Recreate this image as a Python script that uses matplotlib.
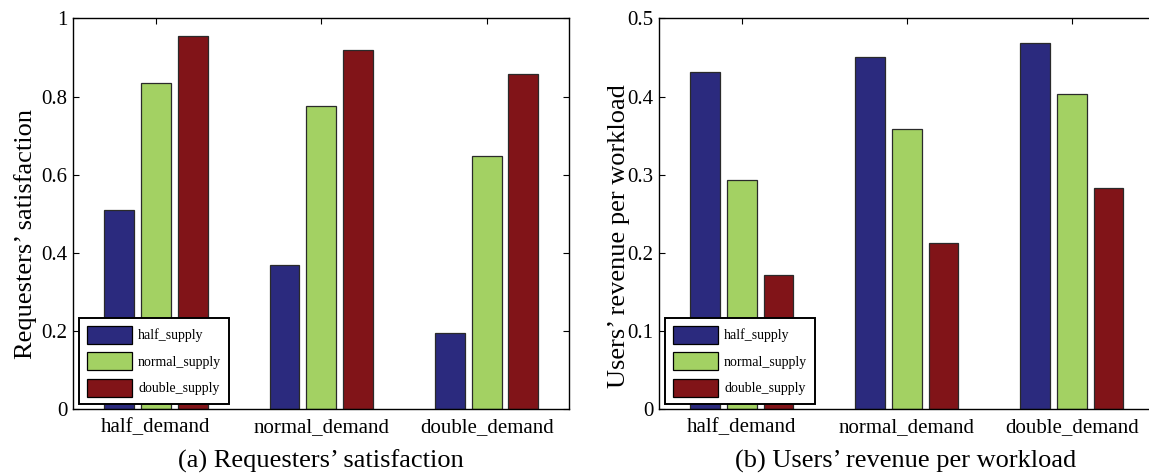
import numpy as np
import matplotlib
matplotlib.use('Agg')
import matplotlib.pyplot as plt

plt.rcParams['font.family'] = ['Liberation Serif', 'DejaVu Serif']

demand = ['half_demand', 'normal_demand', 'double_demand']
supply = ['half_supply', 'normal_supply', 'double_supply']
colors = ['#2b2a7e', '#a3d163', '#811418']

# (a) requesters' satisfaction, one list per supply level
sat_half = [0.510, 0.370, 0.195]
sat_normal = [0.835, 0.776, 0.648]
sat_double = [0.955, 0.918, 0.858]

# (b) users' revenue per workload
rev_half = [0.431, 0.451, 0.468]
rev_normal = [0.293, 0.358, 0.403]
rev_double = [0.172, 0.213, 0.283]

W, H = 1149, 474
fig = plt.figure(figsize=(W/100, H/100), dpi=100)

# axes positions in pixels; the right panel runs past the figure edge (cropped like the original)
ax1 = fig.add_axes([73.3/W, 1-409.3/H, 496/W, 391/H])
ax2 = fig.add_axes([659.3/W, 1-409.3/H, 495/W, 391/H])

x = np.arange(1, 4)
bw = 0.18
off = 0.222

def draw(ax, series, ymax, yticks, yticklabels, right_ticks=True):
    for i, vals in enumerate(series):
        ax.bar(x + (i-1)*off, vals, bw, color=colors[i], edgecolor='#2a2a2a',
               linewidth=0.9, label=supply[i], zorder=2)
    ax.set_xlim(0.5, 3.5)
    ax.set_ylim(0, ymax)
    ax.set_xticks(x)
    ax.set_xticklabels(demand, fontsize=15)
    ax.set_yticks(yticks)
    ax.set_yticklabels(yticklabels, fontsize=15)
    ax.tick_params(direction='in', top=True, right=right_ticks, length=4, width=0.8)
    ax.tick_params(axis='x', pad=6)
    ax.tick_params(axis='y', pad=4)
    for s in ax.spines.values():
        s.set_linewidth(1.0)
        s.set_zorder(5)
    leg = ax.legend(loc='lower left', bbox_to_anchor=(0.0115, 0.0128), borderaxespad=0,
                    fontsize=10, handlelength=3.3, handleheight=1.6, labelspacing=0.62,
                    handletextpad=0.4, borderpad=0.55, fancybox=False, framealpha=1)
    leg.get_frame().set_edgecolor('black')
    leg.get_frame().set_linewidth(1.4)
    for p in leg.get_patches():
        p.set_edgecolor('black')

draw(ax1, [sat_half, sat_normal, sat_double], 1.0,
     [0, 0.2, 0.4, 0.6, 0.8, 1.0], ['0', '0.2', '0.4', '0.6', '0.8', '1'])
draw(ax2, [rev_half, rev_normal, rev_double], 0.5,
     [0, 0.1, 0.2, 0.3, 0.4, 0.5], ['0', '0.1', '0.2', '0.3', '0.4', '0.5'],
     right_ticks=False)

fig.text(26/W, 1-234/H, 'Requesters\u2019 satisfaction', rotation=90,
         ha='center', va='center', fontsize=19)
fig.text(619/W, 1-236/H, 'Users\u2019 revenue per workload', rotation=90,
         ha='center', va='center', fontsize=19)

fig.text(321/W, 1-461/H, '(a) Requesters\u2019 satisfaction', ha='center', va='center', fontsize=19)
fig.text(906/W, 1-461/H, '(b) Users\u2019 revenue per workload', ha='center', va='center', fontsize=19)

plt.savefig('out.png', dpi=100)
